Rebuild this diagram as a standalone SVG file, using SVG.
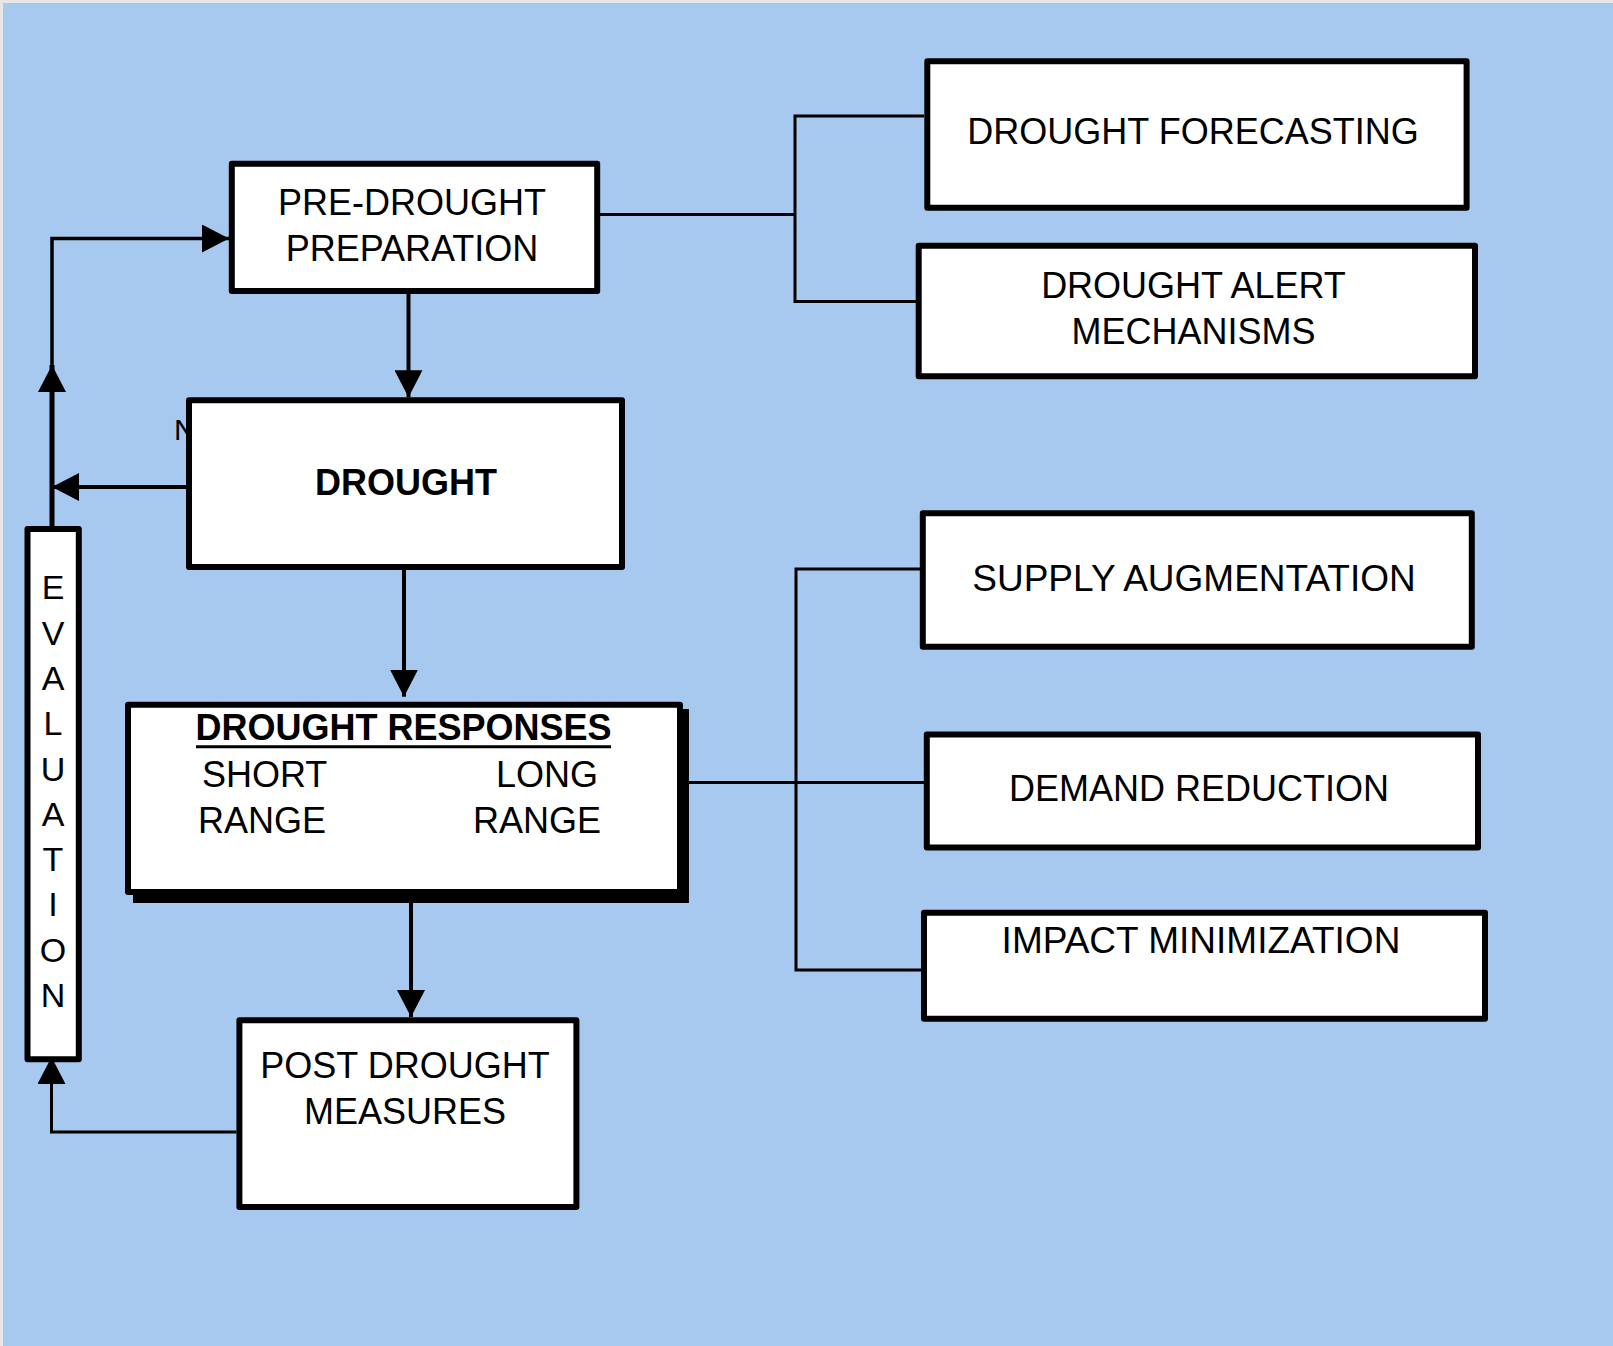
<svg xmlns="http://www.w3.org/2000/svg" width="1613" height="1346" viewBox="0 0 1613 1346">
<style>
.box{fill:#fff;stroke:#000;stroke-width:6;stroke-linejoin:round}
.t{font-family:"Liberation Sans",Arial,sans-serif;font-size:36px;fill:#000;text-anchor:middle}
.b{font-weight:bold}
.s{text-anchor:start}
.e{text-anchor:end}
.ln{stroke:#000;stroke-width:3;fill:none}
.ar{stroke:#000;stroke-width:4;fill:none;marker-end:url(#ah)}
</style>
<defs>
<marker id="ah" markerUnits="userSpaceOnUse" markerWidth="28" markerHeight="28" refX="27" refY="14" orient="auto" viewBox="0 0 28 28">
<path d="M0,0 L27,14 L0,28 Z" fill="#000"/>
</marker>
</defs>
<rect x="0" y="0" width="1613" height="1346" fill="#e6e6e6"/>
<rect x="3" y="3" width="1610" height="1343" fill="#A7C9EF"/>

<g id="label-no"><text class="t s" x="174" y="440" style="font-size:30px">NO</text></g>

<g id="pre-drought">
<rect class="box" x="231.8" y="163.7" width="365.4" height="127.3"/>
<text class="t" x="412" y="215">PRE-DROUGHT</text>
<text class="t" x="412" y="261">PREPARATION</text>
</g>
<g id="drought">
<rect class="box" x="189" y="400.3" width="433" height="166.7"/>
<text class="t b" x="406" y="495">DROUGHT</text>
</g>
<g id="responses">
<rect x="133" y="709" width="556" height="194" fill="#000"/>
<rect class="box" x="128" y="704.7" width="552" height="187.3"/>
<text class="t b" x="403.5" y="740">DROUGHT RESPONSES</text>
<line x1="196" y1="746.7" x2="611" y2="746.7" stroke="#000" stroke-width="3"/>
<text class="t s" x="202" y="787">SHORT</text>
<text class="t s" x="198" y="833">RANGE</text>
<text class="t e" x="598" y="787">LONG</text>
<text class="t e" x="601" y="833">RANGE</text>
</g>
<g id="post-drought">
<rect class="box" x="239.4" y="1020.3" width="337" height="186.7"/>
<text class="t" x="405" y="1078">POST DROUGHT</text>
<text class="t" x="405" y="1124">MEASURES</text>
</g>
<g id="evaluation">
<rect class="box" x="27.5" y="529" width="51.3" height="530.3"/>
<g class="t" style="font-size:34px">
<text x="53" y="599.3">E</text>
<text x="53" y="644.6">V</text>
<text x="53" y="689.9">A</text>
<text x="53" y="735.2">L</text>
<text x="53" y="780.5">U</text>
<text x="53" y="825.8">A</text>
<text x="53" y="871.1">T</text>
<text x="53" y="916.4">I</text>
<text x="53" y="961.7">O</text>
<text x="53" y="1007">N</text>
</g>
</g>
<g id="forecasting">
<rect class="box" x="927.3" y="61.3" width="539.3" height="146.4"/>
<text class="t" x="1193" y="144">DROUGHT FORECASTING</text>
</g>
<g id="alert">
<rect class="box" x="918.7" y="245.7" width="556.3" height="130.6"/>
<text class="t" x="1193.5" y="298.3">DROUGHT ALERT</text>
<text class="t" x="1193.5" y="344">MECHANISMS</text>
</g>
<g id="supply">
<rect class="box" x="922.8" y="513.3" width="549" height="133.5"/>
<text class="t" x="1194" y="591" style="font-size:37px">SUPPLY AUGMENTATION</text>
</g>
<g id="demand">
<rect class="box" x="926.8" y="734.4" width="551.2" height="113.1"/>
<text class="t" x="1199" y="801">DEMAND REDUCTION</text>
</g>
<g id="impact">
<rect class="box" x="924" y="912.8" width="561" height="105.9"/>
<text class="t" x="1201" y="953" style="font-size:37px">IMPACT MINIMIZATION</text>
</g>

<g id="connectors">
<path class="ar" d="M408.5,294 L408.5,397.3"/>
<path class="ar" d="M404,570 L404,696.7"/>
<path class="ar" d="M411,895 L411,1017"/>
<path class="ar" d="M186,487 L52,487"/>
<path class="ar" style="stroke-width:5" d="M52,527 L52,365"/>
<path class="ar" style="stroke-width:3.5" d="M52,365 L52,238.5 L229,238.5"/>
<path class="ar" style="stroke-width:3" d="M236.4,1132 L51.5,1132 L51.5,1057"/>
<path class="ln" d="M600,214.5 L795,214.5"/>
<path class="ln" d="M924,116 L795,116 L795,301.5 L916,301.5"/>
<path class="ln" d="M683,782.4 L924,782.4"/>
<path class="ln" d="M920,569 L796,569 L796,970 L921,970"/>
</g>
</svg>
